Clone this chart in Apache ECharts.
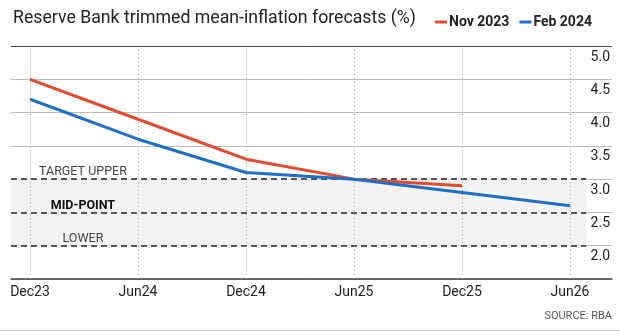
<!DOCTYPE html>
<html>
<head>
<meta charset="utf-8">
<script src="https://cdn.jsdelivr.net/npm/echarts@6/dist/echarts.min.js"></script>
<style>
html,body{margin:0;padding:0;background:#fff;}
#chart{width:620px;height:332px;}
</style>
</head>
<body>
<div id="chart"></div>
<script>
var categories = ['Dec23', 'Jun24', 'Dec24', 'Jun25', 'Dec25', 'Jun26'];
var nov2023 = [4.5, 3.9, 3.3, 3.0, 2.9];
var feb2024 = [4.2, 3.6, 3.1, 3.0, 2.8, 2.6];
var yTicks = [2.0, 2.5, 3.0, 3.5, 4.0, 4.5, 5.0];
var targetUpper = 3.0, midPoint = 2.5, targetLower = 2.0;
var bandLabels = ['TARGET UPPER', 'MID-POINT', 'LOWER'];

var FONT = 'Roboto, "Noto Sans", sans-serif';
var X_MIN = -0.176, X_MAX = 5.389, BAND_END = 5.15, LABEL_X = 0.49;

function pairs(arr) { return arr.map(function (v, i) { return [i, v]; }); }

var chart = echarts.init(document.getElementById('chart'), null, {renderer: 'canvas'});
chart.setOption({
  animation: false,
  backgroundColor: '#fff',
  textStyle: {fontFamily: FONT},
  title: {
    text: 'Reserve Bank trimmed mean-inflation forecasts (%)',
    left: 8, top: 5,
    textStyle: {fontFamily: FONT, fontSize: 17.7, fontWeight: 'normal', color: '#222'}
  },
  legend: {
    left: 430, top: 10,
    itemWidth: 12, itemHeight: 3, itemGap: 10,
    icon: 'rect',
    data: ['Nov 2023', 'Feb 2024'],
    textStyle: {fontFamily: FONT, fontSize: 14, fontWeight: 'bold', color: '#222', padding: [0, 0, 0, -3]}
  },
  grid: {left: 11, right: 8, top: 46, bottom: 53},
  xAxis: {
    type: 'value', min: X_MIN, max: X_MAX,
    axisLine: {show: true, lineStyle: {color: '#444', width: 1.5}},
    axisTick: {show: false},
    splitLine: {show: false},
    axisLabel: {
      customValues: categories.map(function (c, i) { return i; }),
      formatter: function (v) { return categories[Math.round(v)] || ''; },
      color: '#222', fontSize: 14, fontFamily: FONT, margin: 6
    }
  },
  yAxis: {
    type: 'value', position: 'right', min: 1.5, max: 5.0, interval: 0.5,
    axisLine: {show: false}, axisTick: {show: false},
    splitLine: {show: true, lineStyle: {color: ['#bbb', '#bbb', '#bbb', '#bbb', '#bbb', '#bbb', '#bbb', '#444'], width: 1}},
    axisLabel: {
      inside: true, margin: 2, verticalAlign: 'top', padding: [4, 0, 0, 0],
      color: '#222', fontSize: 14, fontFamily: FONT,
      formatter: function (v) { return yTicks.indexOf(v) >= 0 ? v.toFixed(1) : ''; }
    }
  },
  series: [
    {
      name: 'Band', type: 'line', data: [], silent: true,
      markArea: {
        silent: true,
        itemStyle: {color: '#f2f2f2'},
        data: [[{coord: [X_MIN, targetUpper]}, {coord: [BAND_END, targetLower]}]]
      },
      markLine: {
        silent: true, symbol: 'none', animation: false,
        label: {show: false},
        data: [targetUpper, midPoint, targetLower].map(function (y) {
          return [{coord: [X_MIN, y], lineStyle: {color: '#222', type: [6, 4], width: 1.5}},
                  {coord: [BAND_END, y]}];
        }).concat(categories.map(function (c, i) {
          return [{coord: [i, 4.94], lineStyle: {color: '#999', type: [1, 3], width: 1}},
                  {coord: [i, 1.5]}];
        }))
      },
      markPoint: {
        silent: true, symbol: 'circle', symbolSize: 0,
        data: [targetUpper, midPoint, targetLower].map(function (y, k) {
          return {
            coord: [LABEL_X, y],
            label: {
              show: true, formatter: bandLabels[k], position: 'inside', offset: [0, -7],
              fontFamily: FONT, fontSize: 12.5,
              color: k === 1 ? '#111' : '#444', fontWeight: k === 1 ? 'bold' : 'normal'
            }
          };
        })
      }
    },
    {
      name: 'Nov 2023', type: 'line', data: pairs(nov2023),
      symbol: 'none', z: 5,
      lineStyle: {color: '#e34a2c', width: 3},
      itemStyle: {color: '#e34a2c'}
    },
    {
      name: 'Feb 2024', type: 'line', data: pairs(feb2024),
      symbol: 'none', z: 6,
      lineStyle: {color: '#1e6fc8', width: 3},
      itemStyle: {color: '#1e6fc8'}
    }
  ],
  graphic: [
    {type: 'text', right: 8, top: 311,
     style: {text: 'SOURCE: RBA', fontFamily: FONT, fontSize: 11, fill: '#555'}},
    {type: 'rect', left: 0, top: 330, shape: {width: 620, height: 1}, style: {fill: '#ccc'}}
  ]
});
</script>
</body>
</html>
